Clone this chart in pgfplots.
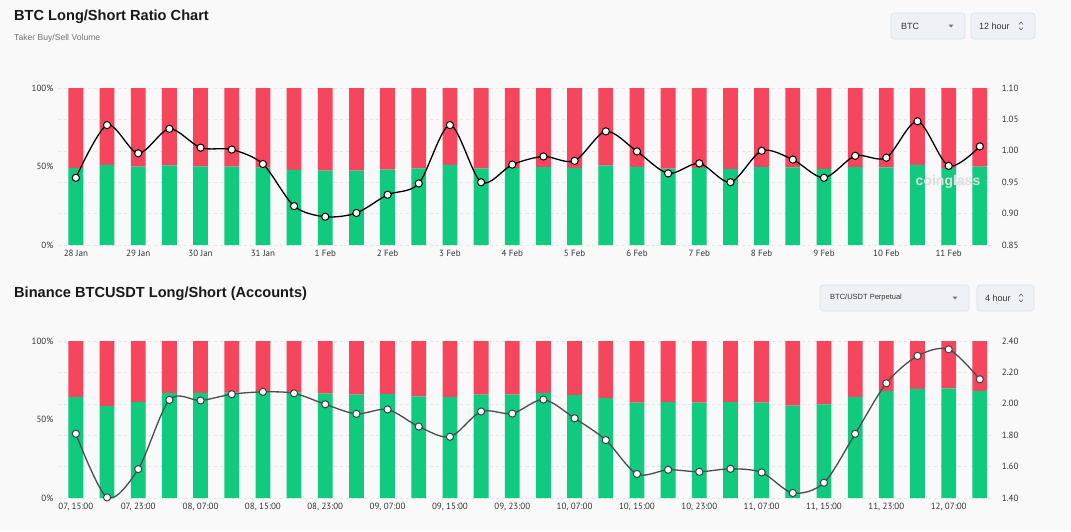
\documentclass[border=0pt]{standalone}
\usepackage{pgfplots}
\pgfplotsset{compat=1.18}
\usepackage{pgfplotstable}
\usepackage{fontspec}
\setmainfont{Liberation Sans}
\newfontfamily\tickfont{PT Sans}
\definecolor{bgc}{HTML}{F9F9F9}
\definecolor{longc}{HTML}{10CA80}
\definecolor{shortc}{HTML}{F6465D}
\definecolor{gridc}{HTML}{E6E6E6}
\definecolor{btnfill}{HTML}{EEF2F6}
\definecolor{btndraw}{HTML}{DCE2E8}
\definecolor{txtc}{HTML}{333333}

\pgfplotstableread{
idx long short ratio
0 49.0 51.0 0.957
1 51.0 49.0 1.041
2 49.9 50.1 0.996
3 50.7 49.3 1.035
4 50.1 49.9 1.005
5 49.9 50.1 1.002
6 49.3 50.7 0.979
7 47.8 52.2 0.912
8 47.3 52.7 0.895
9 47.3 52.7 0.901
10 48.0 52.0 0.930
11 48.8 51.2 0.948
12 51.0 49.0 1.041
13 48.8 51.2 0.950
14 49.0 51.0 0.978
15 49.6 50.4 0.991
16 49.1 50.9 0.984
17 50.6 49.4 1.031
18 49.8 50.2 0.999
19 48.7 51.3 0.964
20 49.1 50.9 0.980
21 48.5 51.5 0.950
22 49.8 50.2 1.000
23 49.4 50.6 0.986
24 48.5 51.5 0.957
25 49.6 50.4 0.992
26 49.4 50.6 0.989
27 51.1 48.9 1.047
28 48.9 51.1 0.976
29 50.0 50.0 1.007
}\topdata

\pgfplotstableread{
idx long short ratio
0 64.4 35.6 1.809
1 58.5 41.5 1.404
2 61.2 38.8 1.584
3 66.9 33.1 2.025
4 66.9 33.1 2.021
5 67.2 32.8 2.061
6 68.2 31.8 2.076
7 67.2 32.8 2.067
8 66.5 33.5 1.997
9 65.9 34.1 1.936
10 66.1 33.9 1.964
11 64.8 35.2 1.855
12 64.2 35.8 1.790
13 65.9 34.1 1.951
14 65.9 34.1 1.938
15 66.9 33.1 2.027
16 65.5 34.5 1.908
17 63.6 36.4 1.769
18 60.8 39.2 1.553
19 61.0 39.0 1.580
20 60.8 39.2 1.567
21 61.0 39.0 1.586
22 60.8 39.2 1.563
23 58.9 41.1 1.432
24 59.7 40.3 1.497
25 64.4 35.6 1.809
26 68.0 32.0 2.131
27 69.5 30.5 2.305
28 69.9 30.1 2.347
29 68.2 31.8 2.156
}\botdata

\tikzset{btn/.style={draw=btndraw, fill=btnfill, rounded corners=3pt, line width=0.6pt}}
\pgfplotsset{
  base/.style={
    scale only axis, width=934.5pt, height=157pt,
    xmin=-0.58, xmax=29.4, anchor=south west,
    axis line style={draw=none}, major tick length=0pt,
    tick label style={font=\tickfont\fontsize{9}{10}\selectfont, text=txtc},
    /pgf/number format/assume math mode=true,
  },
  leftax/.style={
    base, ymin=0, ymax=100, ytick={0,50,100},
    yticklabel={\pgfmathprintnumber{\tick}\%},
    extra y ticks={0,20,40,60,80,100}, extra y tick labels={},
    extra y tick style={grid=major, major grid style={dashed, gridc, line width=0.6pt}},
    ybar stacked, bar width=14.8pt,
    xtick={0,2,...,28},
    xticklabel style={yshift=-2pt},
    yticklabel style={xshift=-1pt},
  },
  rightax/.style={
    base, axis y line*=right, axis x line=none,
    yticklabel style={xshift=6pt, /pgf/number format/.cd, fixed, fixed zerofill, precision=2},
  },
}

\begin{document}
\begin{tikzpicture}
\fill[bgc] (0,0) rectangle (1071pt,-531pt);

% ---- headers
\node[anchor=west, inner sep=0pt, font=\bfseries\fontsize{14.6}{18}\selectfont, text=black!90] at (14pt,-17pt) {BTC Long/Short Ratio Chart};
\node[anchor=west, inner sep=0pt, font=\fontsize{8.6}{10}\selectfont, text=black!55] at (14pt,-38pt) {Taker Buy/Sell Volume};
\draw[btn] (891pt,-13pt) rectangle (965pt,-39pt);
\node[anchor=west, inner sep=0pt, font=\fontsize{9}{11}\selectfont, text=txtc] at (901pt,-26pt) {BTC};
\fill[black!55] (948.5pt,-24.5pt) -- (953.5pt,-24.5pt) -- (951pt,-27.5pt) -- cycle;
\draw[btn] (971pt,-13pt) rectangle (1035pt,-39pt);
\node[anchor=west, inner sep=0pt, font=\fontsize{9}{11}\selectfont, text=txtc] at (979pt,-26pt) {12 hour};
\draw[black!60, line width=0.6pt] (1019pt,-24.5pt) -- (1021pt,-22pt) -- (1023pt,-24.5pt);
\draw[black!60, line width=0.6pt] (1019pt,-27.5pt) -- (1021pt,-30pt) -- (1023pt,-27.5pt);

\node[anchor=west, inner sep=0pt, font=\bfseries\fontsize{14.6}{17}\selectfont, text=black!90] at (14pt,-294pt) {Binance BTCUSDT Long/Short (Accounts)};
\draw[btn] (820pt,-285pt) rectangle (969pt,-311pt);
\node[anchor=west, inner sep=0pt, font=\fontsize{7.5}{9}\selectfont, text=txtc] at (830pt,-298pt) {BTC/USDT Perpetual};
\fill[black!55] (952.5pt,-296.5pt) -- (957.5pt,-296.5pt) -- (955pt,-299.5pt) -- cycle;
\draw[btn] (977pt,-285pt) rectangle (1034pt,-311pt);
\node[anchor=west, inner sep=0pt, font=\fontsize{9}{11}\selectfont, text=txtc] at (985pt,-298pt) {4 hour};
\draw[black!60, line width=0.6pt] (1019pt,-296.5pt) -- (1021pt,-294pt) -- (1023pt,-296.5pt);
\draw[black!60, line width=0.6pt] (1019pt,-299.5pt) -- (1021pt,-302pt) -- (1023pt,-299.5pt);

% ---- top panel
\begin{axis}[leftax, at={(57.8pt,-245pt)},
  xticklabels={28 Jan,29 Jan,30 Jan,31 Jan,1 Feb,2 Feb,3 Feb,4 Feb,5 Feb,6 Feb,7 Feb,8 Feb,9 Feb,10 Feb,11 Feb}]
\addplot[fill=longc, draw=none] table[x=idx,y=long]{\topdata};
\addplot[fill=shortc, draw=none] table[x=idx,y=short]{\topdata};
\end{axis}
\node[font=\bfseries\fontsize{14}{16}\selectfont, text=black!13] at (948pt,-182pt) {coinglass};
\begin{axis}[rightax, at={(57.8pt,-245pt)}, ymin=0.85, ymax=1.10,
  ytick={0.85,0.90,0.95,1.00,1.05,1.10}]
\addplot[smooth, black, line width=1.3pt, mark=*, mark size=3.6pt,
  mark options={fill=white, draw=black, line width=1pt}] table[x=idx,y=ratio]{\topdata};
\end{axis}

% ---- bottom panel
\begin{axis}[leftax, at={(57.8pt,-498pt)},
  xticklabels={{07, 15:00},{07, 23:00},{08, 07:00},{08, 15:00},{08, 23:00},{09, 07:00},{09, 15:00},{09, 23:00},{10, 07:00},{10, 15:00},{10, 23:00},{11, 07:00},{11, 15:00},{11, 23:00},{12, 07:00}}]
\addplot[fill=longc, draw=none] table[x=idx,y=long]{\botdata};
\addplot[fill=shortc, draw=none] table[x=idx,y=short]{\botdata};
\end{axis}
\begin{axis}[rightax, at={(57.8pt,-498pt)}, ymin=1.40, ymax=2.40,
  ytick={1.40,1.60,1.80,2.00,2.20,2.40}]
\addplot[smooth, black!70, line width=1.3pt, mark=*, mark size=3.6pt,
  mark options={fill=white, draw=black!75, line width=1pt}] table[x=idx,y=ratio]{\botdata};
\end{axis}
\end{tikzpicture}
\end{document}
